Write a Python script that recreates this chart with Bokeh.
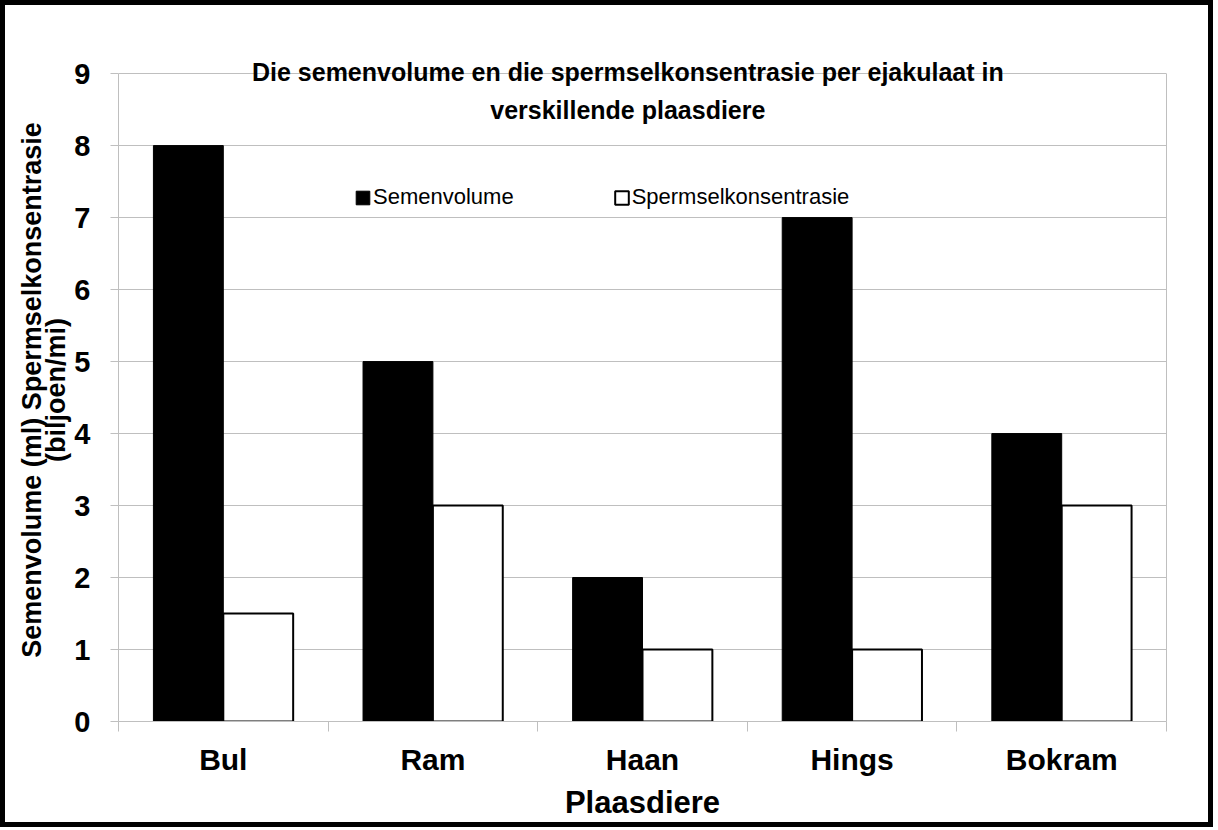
from bokeh.plotting import figure
from bokeh.models import (Range1d, FixedTicker, Label, Legend, LegendItem,
                          ColumnDataSource, LinearAxis)
from bokeh.transform import dodge
from bokeh.embed import file_html
from bokeh.resources import INLINE

# ---- data ----
animals = ["Bul", "Ram", "Haan", "Hings", "Bokram"]
semenvolume = [8, 5, 2, 7, 4]
spermselkonsentrasie = [1.5, 3, 1, 1, 3]
y_ticks = [0, 1, 2, 3, 4, 5, 6, 7, 8, 9]

title_text = ("Die semenvolume en die spermselkonsentrasie per ejakulaat in\n"
              "verskillende plaasdiere")
y_label = "Semenvolume (ml) Spermselkonsentrasie\n(biljoen/mi)"
x_label = "Plaasdiere"

FONT = "Liberation Sans"
GRAY = "#bfbfbf"

n = len(animals)
y_top = y_ticks[-1]
centers = [i + 0.5 for i in range(n)]
src = ColumnDataSource(dict(x=centers, sv=semenvolume, sk=spermselkonsentrasie, animal=animals))

p = figure(frame_width=1048, frame_height=663,
           x_range=Range1d(0, n), y_range=Range1d(0, 9.21),
           min_border_left=113, min_border_right=42, min_border_top=53, min_border_bottom=90,
           output_backend="svg", toolbar_location=None)
p.styles = {"border": "5px solid black"}
p.background_fill_color = "white"
p.border_fill_color = "white"
p.outline_line_color = None

r1 = p.vbar(x=dodge("x", -1/6), top="sv", width=1/3, source=src,
            fill_color="black", line_color="black", line_width=1)
r2 = p.vbar(x=dodge("x", 1/6), top="sk", width=1/3, source=src,
            fill_color="white", line_color="black", line_width=2)

# x axis: labels at category centres, tick marks at category boundaries
xa = p.xaxis[0]
xa.ticker = FixedTicker(ticks=centers, minor_ticks=list(range(n + 1)))
xa.major_label_overrides = {c: a for c, a in zip(centers, animals)}
xa.major_tick_out = 0
xa.major_tick_in = 0
xa.minor_tick_out = 10
xa.minor_tick_in = 0
xa.minor_tick_line_color = GRAY
xa.axis_line_color = GRAY
xa.major_label_text_font = FONT
xa.major_label_text_font_style = "bold"
xa.major_label_text_font_size = "30px"
xa.major_label_text_color = "black"
xa.major_label_standoff = 11
xa.axis_label = x_label
xa.axis_label_text_font = FONT
xa.axis_label_text_font_style = "bold"
xa.axis_label_text_font_size = "31px"
xa.axis_label_text_color = "black"
xa.axis_label_standoff = 6

ya = p.yaxis[0]
ya.bounds = (0, y_top)
ya.ticker = FixedTicker(ticks=y_ticks)
ya.major_tick_out = 8
ya.major_tick_in = 0
ya.major_tick_line_color = GRAY
ya.minor_tick_line_color = None
ya.axis_line_color = GRAY
ya.major_label_text_font = FONT
ya.major_label_text_font_style = "bold"
ya.major_label_text_font_size = "29px"
ya.major_label_text_color = "black"
ya.major_label_standoff = 20
ya.axis_label = y_label
ya.axis_label_text_font = FONT
ya.axis_label_text_font_style = "bold"
ya.axis_label_text_font_size = "27px"
ya.axis_label_text_color = "black"
ya.axis_label_text_line_height = 0.82
ya.axis_label_standoff = 0

# right frame edge (plot-area border) from 0 to the top tick
right = LinearAxis(bounds=(0, y_top), ticker=FixedTicker(ticks=[]),
                   axis_line_color=GRAY, major_tick_line_color=None,
                   minor_tick_line_color=None, major_label_text_font_size="0px")
p.add_layout(right, "right")

p.xgrid.grid_line_color = None
p.ygrid.ticker = FixedTicker(ticks=y_ticks)
p.ygrid.grid_line_color = GRAY
p.ygrid.grid_line_width = 1

legend = Legend(items=[LegendItem(label="Semenvolume", renderers=[r1]),
                       LegendItem(label="Spermselkonsentrasie", renderers=[r2])],
                orientation="horizontal", location=(236, 511),
                glyph_width=17, glyph_height=17, label_standoff=2, spacing=99,
                padding=0, margin=0, border_line_color=None, background_fill_alpha=0,
                label_text_font=FONT, label_text_font_size="22px",
                label_text_color="black")
p.add_layout(legend, "center")

title = Label(x=2.43, y=8.764, text=title_text, text_align="center", text_baseline="middle",
              text_font=FONT, text_font_style="bold", text_font_size="25px",
              text_line_height=1.36, text_color="black")
p.add_layout(title)

open("out.html", "w").write(file_html(p, INLINE))
